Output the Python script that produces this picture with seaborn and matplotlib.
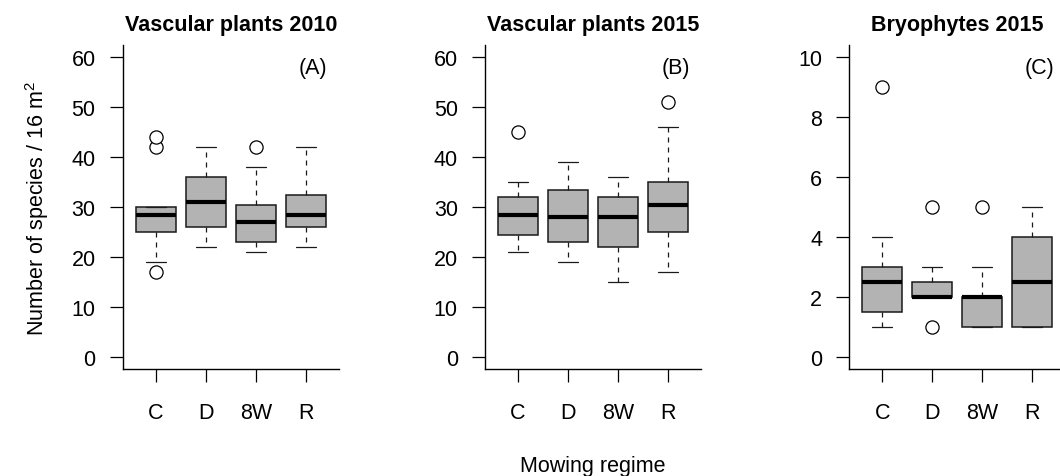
import matplotlib
matplotlib.use("Agg")
import matplotlib.pyplot as plt
import seaborn as sns

# mowing regimes
groups = ["C", "D", "8W", "R"]

vasc2010_lo = [19, 22, 21, 22]
vasc2010_q1 = [25, 26, 23, 26]
vasc2010_med = [28.5, 31, 27, 28.5]
vasc2010_q3 = [30, 36, 30.5, 32.5]
vasc2010_hi = [30, 42, 38, 42]
vasc2010_out = [[17, 42, 44], [], [42], []]

# Vascular plants 2015
vasc2015_lo = [21, 19, 15, 17]
vasc2015_q1 = [24.5, 23, 22, 25]
vasc2015_med = [28.5, 28, 28, 30.5]
vasc2015_q3 = [32, 33.5, 32, 35]
vasc2015_hi = [35, 39, 36, 46]
vasc2015_out = [[45], [], [], [51]]

# Bryophytes 2015
bryo2015_lo = [1, 2, 1, 1]
bryo2015_q1 = [1.5, 2, 1, 1]
bryo2015_med = [2.5, 2, 2, 2.5]
bryo2015_q3 = [3, 2.5, 2, 4]
bryo2015_hi = [4, 3, 3, 5]
bryo2015_out = [[9], [1, 5], [5], []]

sns.set_style("ticks")
plt.rcParams["font.family"] = ["Liberation Sans", "DejaVu Sans"]
plt.rcParams["mathtext.fontset"] = "custom"
plt.rcParams["mathtext.rm"] = "Liberation Sans"
plt.rcParams["mathtext.it"] = "Liberation Sans"
plt.rcParams["text.color"] = "black"
plt.rcParams["axes.labelcolor"] = "black"
plt.rcParams["xtick.color"] = "black"
plt.rcParams["ytick.color"] = "black"


def make_stats(lo, q1, med, q3, hi, out):
    stats = []
    for i in range(len(groups)):
        stats.append({"label": groups[i], "whislo": lo[i], "q1": q1[i], "med": med[i],
                      "q3": q3[i], "whishi": hi[i], "fliers": out[i]})
    return stats


panels = [
    ("Vascular plants 2010", "(A)", make_stats(vasc2010_lo, vasc2010_q1, vasc2010_med, vasc2010_q3, vasc2010_hi, vasc2010_out),
     list(range(0, 61, 10)), (-2.4, 62.4), 58),
    ("Vascular plants 2015", "(B)", make_stats(vasc2015_lo, vasc2015_q1, vasc2015_med, vasc2015_q3, vasc2015_hi, vasc2015_out),
     list(range(0, 61, 10)), (-2.4, 62.4), 58),
    ("Bryophytes 2015", "(C)", make_stats(bryo2015_lo, bryo2015_q1, bryo2015_med, bryo2015_q3, bryo2015_hi, bryo2015_out),
     list(range(0, 11, 2)), (-0.4, 10.4), 9.67),
]

fig = plt.figure(figsize=(10.6, 4.77), dpi=100)
lefts = [0.1158, 0.4575, 0.8012]
edge = "#1a1a1a"
fs = 15.5

for k, (title, tag, stats, yticks, ylim, tag_y) in enumerate(panels):
    ax = fig.add_axes([lefts[k], 0.2237, 0.2038, 0.679])
    ax.bxp(stats, positions=[1, 2, 3, 4], widths=0.8, patch_artist=True,
           capwidths=0.4,
           boxprops=dict(facecolor="#b3b3b3", edgecolor=edge, linewidth=1.1),
           medianprops=dict(color="black", linewidth=3.0, solid_capstyle="butt"),
           whiskerprops=dict(color=edge, linewidth=0.9, linestyle=(0, (4, 4))),
           capprops=dict(color=edge, linewidth=0.9),
           flierprops=dict(marker="o", markerfacecolor="white", markeredgecolor="black",
                           markersize=9.5, markeredgewidth=0.9, linestyle="none"))
    ax.set_xlim(0.34, 4.66)
    ax.set_ylim(*ylim)
    ax.set_yticks(yticks)
    ax.set_xticks([1, 2, 3, 4])
    ax.set_xticklabels(groups)
    sns.despine(ax=ax)
    for side in ["left", "bottom"]:
        ax.spines[side].set_linewidth(1.0)
        ax.spines[side].set_color("black")
    ax.tick_params(axis="both", length=9.5, width=0.9, labelsize=fs)
    ax.tick_params(axis="y", pad=10)
    ax.tick_params(axis="x", pad=14)
    ax.set_title(title, fontsize=fs, fontweight="bold", pad=11)
    ax.text(4.15, tag_y, tag, fontsize=fs, ha="center", va="center")
    ax.grid(False)
    if k == 0:
        ax.set_ylabel("Number of species / 16 m$^{2}$", fontsize=fs, labelpad=15)
    if k == 1:
        ax.set_xlabel("Mowing regime", fontsize=fs, labelpad=23)

fig.savefig("out.png", dpi=100)
